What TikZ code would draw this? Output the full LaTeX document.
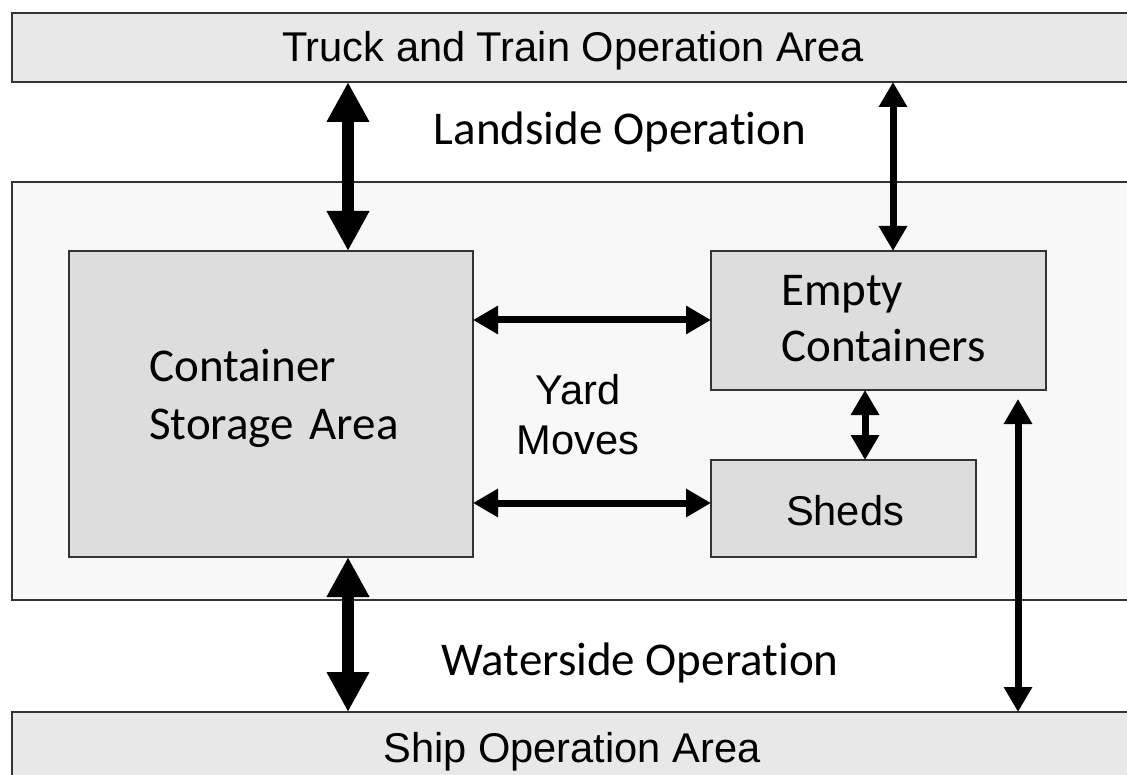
\documentclass[tikz,border=0pt]{standalone}
\usepackage{fontspec}
\setmainfont{Liberation Sans}
\newfontfamily\calfont[Ligatures=NoCommon]{Carlito}
\usetikzlibrary{arrows.meta}

\definecolor{barfill}{HTML}{E8E8E8}
\definecolor{zonefill}{HTML}{F8F8F8}
\definecolor{boxfill}{HTML}{DDDDDD}
\definecolor{edgecol}{HTML}{333333}

\begin{document}
\begin{tikzpicture}[x=1pt, y=-1pt,
  area/.style={draw=edgecol, line width=2pt, anchor=north west,
    inner sep=0pt, outer sep=0pt},
  arialtxt/.style={inner sep=0pt, font=\fontsize{41.6}{50}\selectfont},
  caltxt/.style={inner sep=0pt, font=\calfont\fontsize{47}{57}\selectfont},
  heavy/.style={line width=12pt,
    arrows={Triangle[length=40pt,width=40pt]-Triangle[length=40pt,width=40pt]}},
  light/.style={line width=7pt,
    arrows={Triangle[length=25pt,width=27pt]-Triangle[length=25pt,width=27pt]}}]

\useasboundingbox (0,0) rectangle (1127,775);
\clip (0,0) rectangle (1127,775);
\fill[white] (0,0) rectangle (1127,775);

% areas and boxes
\node[area, fill=barfill, minimum width=1130pt, minimum height=69pt] (truck) at (12,13) {};
\node[area, fill=zonefill, minimum width=1130pt, minimum height=418pt] (terminal) at (12,182) {};
\node[area, fill=boxfill, minimum width=404pt, minimum height=306pt] (csa) at (69,251) {};
\node[area, fill=boxfill, minimum width=335pt, minimum height=139pt] (empty) at (711,251) {};
\node[area, fill=boxfill, minimum width=265pt, minimum height=97pt] (sheds) at (711,460) {};
\node[area, fill=barfill, minimum width=1130pt, minimum height=80pt] (ship) at (12,712) {};

% labels
\node[arialtxt, anchor=base] (truck-t) at (573,62) {Truck and Train Operation Area};
\node[caltxt, anchor=base] (land-t) at (620,145) {Landside Operation};
\node[caltxt, anchor=base west, text width=330pt, align=left] (csa-t) at (149,382)
  {Container\\[1pt]Storage Area};
\node[caltxt, anchor=base west, text width=300pt, align=left] (empty-t) at (781,306)
  {Empty\\[-1pt]Containers};
\node[arialtxt, anchor=base, text width=200pt, align=center] (yard-t) at (578,405)
  {Yard\\Moves};
\node[arialtxt, anchor=base] (sheds-t) at (845,525) {Sheds};
\node[caltxt, anchor=base] (water-t) at (640,675) {Waterside Operation};
\node[arialtxt, anchor=base] (ship-t) at (572,762) {Ship Operation Area};

% connectors
\coordinate (xa) at (348,0);
\coordinate (xb) at (893,0);
\coordinate (xc) at (865,0);
\coordinate (xd) at (1018,0);
\coordinate (ya) at (0,320);
\coordinate (yb) at (0,503);
\coordinate (dtop) at (1018,399);

\draw[heavy] (xa |- truck.south) -- (xa |- csa.north);
\draw[heavy] (xa |- csa.south) -- (xa |- ship.north);
\draw[light] (xb |- truck.south) -- (xb |- empty.north);
\draw[light] (csa.east |- ya) -- (empty.west |- ya);
\draw[light] (csa.east |- yb) -- (sheds.west |- yb);
\draw[light] (xc |- empty.south) -- (xc |- sheds.north);
\draw[light] (dtop) -- (xd |- ship.north);
\end{tikzpicture}
\end{document}
